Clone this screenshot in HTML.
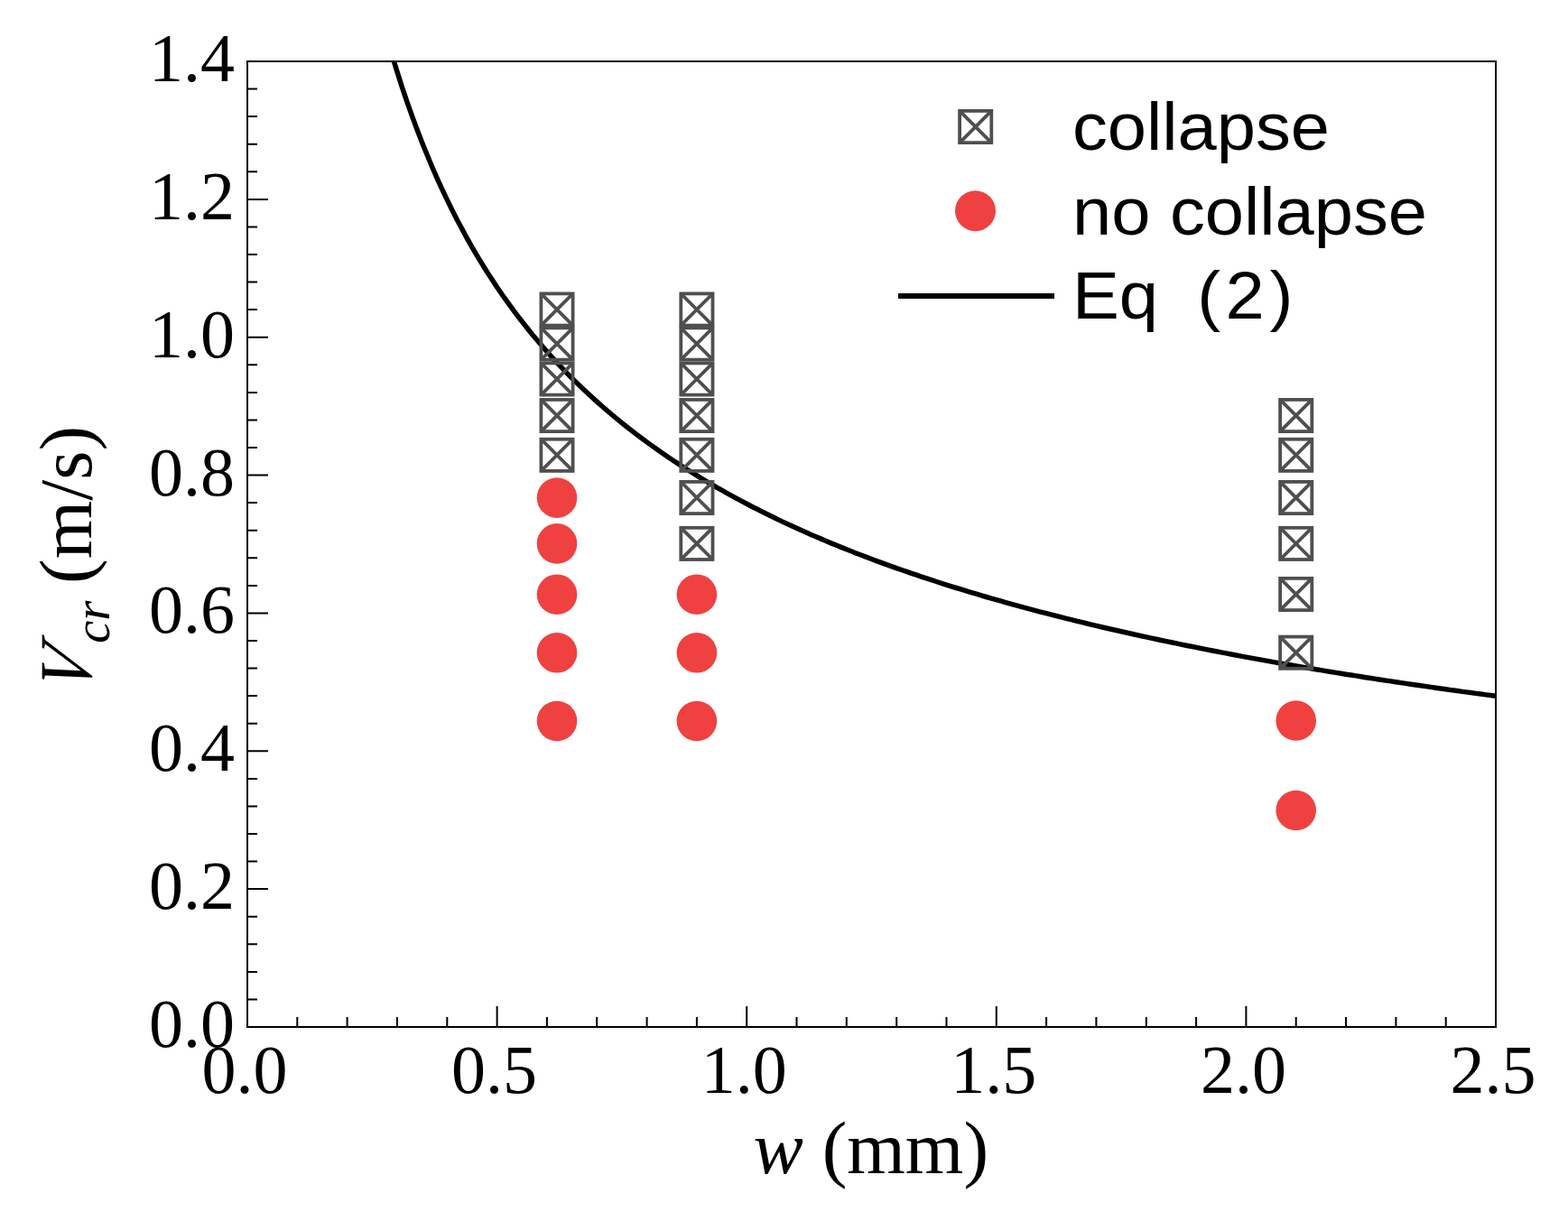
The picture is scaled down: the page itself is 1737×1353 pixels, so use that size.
<!DOCTYPE html>
<html><head><meta charset="utf-8"><style>html,body{margin:0;padding:0;background:#fff}svg{display:block}</style></head>
<body>
<svg width="1737" height="1353" viewBox="0 0 1737 1353">
<rect width="1737" height="1353" fill="#fff"/>
<defs><clipPath id="c"><rect x="274" y="68" width="1383" height="1070"/></clipPath></defs>
<polyline clip-path="url(#c)" points="428.9,42.4 434.4,61.5 440.0,79.6 445.5,96.8 451.0,113.2 456.6,128.9 462.1,143.8 467.6,158.1 473.2,171.8 478.7,185.0 484.2,197.6 489.7,209.7 495.3,221.4 500.8,232.6 506.3,243.5 511.9,253.9 517.4,264.1 522.9,273.8 528.5,283.3 534.0,292.4 539.5,301.3 545.1,309.8 550.6,318.2 556.1,326.2 561.7,334.1 567.2,341.7 572.7,349.1 578.3,356.3 583.8,363.3 589.3,370.2 594.9,376.8 600.4,383.3 605.9,389.6 611.5,395.8 617.0,401.8 622.5,407.6 628.0,413.4 633.6,419.0 639.1,424.4 644.6,429.8 650.2,435.0 655.7,440.1 661.2,445.1 666.8,450.0 672.3,454.8 677.8,459.5 683.4,464.1 688.9,468.6 694.4,473.0 700.0,477.4 705.5,481.6 711.0,485.8 716.6,489.9 722.1,493.9 727.6,497.8 733.2,501.7 738.7,505.5 744.2,509.2 749.8,512.9 755.3,516.5 760.8,520.0 766.3,523.5 771.9,526.9 777.4,530.3 782.9,533.6 788.5,536.9 794.0,540.1 799.5,543.2 805.1,546.3 810.6,549.4 816.1,552.4 821.7,555.4 827.2,558.3 832.7,561.2 838.3,564.0 843.8,566.8 849.3,569.5 854.9,572.3 860.4,574.9 865.9,577.6 871.5,580.2 877.0,582.7 882.5,585.3 888.1,587.8 893.6,590.2 899.1,592.7 904.6,595.1 910.2,597.4 915.7,599.8 921.2,602.1 926.8,604.3 932.3,606.6 937.8,608.8 943.4,611.0 948.9,613.2 954.4,615.3 960.0,617.4 965.5,619.5 971.0,621.6 976.6,623.6 982.1,625.6 987.6,627.6 993.2,629.6 998.7,631.5 1004.2,633.4 1009.8,635.3 1015.3,637.2 1020.8,639.1 1026.4,640.9 1031.9,642.7 1037.4,644.5 1042.9,646.3 1048.5,648.1 1054.0,649.8 1059.5,651.5 1065.1,653.2 1070.6,654.9 1076.1,656.6 1081.7,658.2 1087.2,659.9 1092.7,661.5 1098.3,663.1 1103.8,664.7 1109.3,666.2 1114.9,667.8 1120.4,669.3 1125.9,670.9 1131.5,672.4 1137.0,673.9 1142.5,675.3 1148.1,676.8 1153.6,678.3 1159.1,679.7 1164.7,681.1 1170.2,682.5 1175.7,683.9 1181.2,685.3 1186.8,686.7 1192.3,688.1 1197.8,689.4 1203.4,690.7 1208.9,692.1 1214.4,693.4 1220.0,694.7 1225.5,696.0 1231.0,697.3 1236.6,698.5 1242.1,699.8 1247.6,701.0 1253.2,702.3 1258.7,703.5 1264.2,704.7 1269.8,705.9 1275.3,707.1 1280.8,708.3 1286.4,709.5 1291.9,710.6 1297.4,711.8 1303.0,712.9 1308.5,714.1 1314.0,715.2 1319.5,716.3 1325.1,717.4 1330.6,718.5 1336.1,719.6 1341.7,720.7 1347.2,721.8 1352.7,722.9 1358.3,723.9 1363.8,725.0 1369.3,726.0 1374.9,727.1 1380.4,728.1 1385.9,729.1 1391.5,730.1 1397.0,731.1 1402.5,732.1 1408.1,733.1 1413.6,734.1 1419.1,735.1 1424.7,736.0 1430.2,737.0 1435.7,738.0 1441.3,738.9 1446.8,739.9 1452.3,740.8 1457.8,741.7 1463.4,742.6 1468.9,743.6 1474.4,744.5 1480.0,745.4 1485.5,746.3 1491.0,747.2 1496.6,748.0 1502.1,748.9 1507.6,749.8 1513.2,750.7 1518.7,751.5 1524.2,752.4 1529.8,753.2 1535.3,754.1 1540.8,754.9 1546.4,755.8 1551.9,756.6 1557.4,757.4 1563.0,758.2 1568.5,759.0 1574.0,759.8 1579.6,760.6 1585.1,761.4 1590.6,762.2 1596.1,763.0 1601.7,763.8 1607.2,764.6 1612.7,765.3 1618.3,766.1 1623.8,766.9 1629.3,767.6 1634.9,768.4 1640.4,769.1 1645.9,769.9 1651.5,770.6 1657.0,771.4" fill="none" stroke="#000" stroke-width="5.5" stroke-linejoin="round"/>
<rect x="274" y="68" width="1383" height="1070" fill="none" stroke="#000" stroke-width="2"/>
<path d="M274 1138.0h23M274 1107.4h11M274 1076.9h11M274 1046.3h11M274 1015.7h11M274 985.1h23M274 954.6h11M274 924.0h11M274 893.4h11M274 862.9h11M274 832.3h23M274 801.7h11M274 771.1h11M274 740.6h11M274 710.0h11M274 679.4h23M274 648.9h11M274 618.3h11M274 587.7h11M274 557.1h11M274 526.6h23M274 496.0h11M274 465.4h11M274 434.9h11M274 404.3h11M274 373.7h23M274 343.1h11M274 312.6h11M274 282.0h11M274 251.4h11M274 220.9h23M274 190.3h11M274 159.7h11M274 129.1h11M274 98.6h11M274 68.0h23M274.0 1138v-23M329.3 1138v-11M384.6 1138v-11M440.0 1138v-11M495.3 1138v-11M550.6 1138v-23M605.9 1138v-11M661.2 1138v-11M716.6 1138v-11M771.9 1138v-11M827.2 1138v-23M882.5 1138v-11M937.8 1138v-11M993.2 1138v-11M1048.5 1138v-11M1103.8 1138v-23M1159.1 1138v-11M1214.4 1138v-11M1269.8 1138v-11M1325.1 1138v-11M1380.4 1138v-23M1435.7 1138v-11M1491.0 1138v-11M1546.4 1138v-11M1601.7 1138v-11M1657.0 1138v-23" stroke="#000" stroke-width="2" fill="none"/>
<g stroke="#4f4f4f" stroke-width="3.8" fill="none"><rect x="599.4" y="325.4" width="35.2" height="35.2"/><path d="M599.4 325.4L634.6 360.6M634.6 325.4L599.4 360.6"/></g>
<g stroke="#4f4f4f" stroke-width="3.8" fill="none"><rect x="599.4" y="363.4" width="35.2" height="35.2"/><path d="M599.4 363.4L634.6 398.6M634.6 363.4L599.4 398.6"/></g>
<g stroke="#4f4f4f" stroke-width="3.8" fill="none"><rect x="599.4" y="402.4" width="35.2" height="35.2"/><path d="M599.4 402.4L634.6 437.6M634.6 402.4L599.4 437.6"/></g>
<g stroke="#4f4f4f" stroke-width="3.8" fill="none"><rect x="599.4" y="442.9" width="35.2" height="35.2"/><path d="M599.4 442.9L634.6 478.1M634.6 442.9L599.4 478.1"/></g>
<g stroke="#4f4f4f" stroke-width="3.8" fill="none"><rect x="599.4" y="486.7" width="35.2" height="35.2"/><path d="M599.4 486.7L634.6 521.9M634.6 486.7L599.4 521.9"/></g>
<g stroke="#4f4f4f" stroke-width="3.8" fill="none"><rect x="754.3" y="325.4" width="35.2" height="35.2"/><path d="M754.3 325.4L789.5 360.6M789.5 325.4L754.3 360.6"/></g>
<g stroke="#4f4f4f" stroke-width="3.8" fill="none"><rect x="754.3" y="363.4" width="35.2" height="35.2"/><path d="M754.3 363.4L789.5 398.6M789.5 363.4L754.3 398.6"/></g>
<g stroke="#4f4f4f" stroke-width="3.8" fill="none"><rect x="754.3" y="402.4" width="35.2" height="35.2"/><path d="M754.3 402.4L789.5 437.6M789.5 402.4L754.3 437.6"/></g>
<g stroke="#4f4f4f" stroke-width="3.8" fill="none"><rect x="754.3" y="442.9" width="35.2" height="35.2"/><path d="M754.3 442.9L789.5 478.1M789.5 442.9L754.3 478.1"/></g>
<g stroke="#4f4f4f" stroke-width="3.8" fill="none"><rect x="754.3" y="486.7" width="35.2" height="35.2"/><path d="M754.3 486.7L789.5 521.9M789.5 486.7L754.3 521.9"/></g>
<g stroke="#4f4f4f" stroke-width="3.8" fill="none"><rect x="754.3" y="533.9" width="35.2" height="35.2"/><path d="M754.3 533.9L789.5 569.1M789.5 533.9L754.3 569.1"/></g>
<g stroke="#4f4f4f" stroke-width="3.8" fill="none"><rect x="754.3" y="584.8" width="35.2" height="35.2"/><path d="M754.3 584.8L789.5 620.0M789.5 584.8L754.3 620.0"/></g>
<g stroke="#4f4f4f" stroke-width="3.8" fill="none"><rect x="1418.1" y="442.9" width="35.2" height="35.2"/><path d="M1418.1 442.9L1453.3 478.1M1453.3 442.9L1418.1 478.1"/></g>
<g stroke="#4f4f4f" stroke-width="3.8" fill="none"><rect x="1418.1" y="486.7" width="35.2" height="35.2"/><path d="M1418.1 486.7L1453.3 521.9M1453.3 486.7L1418.1 521.9"/></g>
<g stroke="#4f4f4f" stroke-width="3.8" fill="none"><rect x="1418.1" y="533.9" width="35.2" height="35.2"/><path d="M1418.1 533.9L1453.3 569.1M1453.3 533.9L1418.1 569.1"/></g>
<g stroke="#4f4f4f" stroke-width="3.8" fill="none"><rect x="1418.1" y="584.8" width="35.2" height="35.2"/><path d="M1418.1 584.8L1453.3 620.0M1453.3 584.8L1418.1 620.0"/></g>
<g stroke="#4f4f4f" stroke-width="3.8" fill="none"><rect x="1418.1" y="640.9" width="35.2" height="35.2"/><path d="M1418.1 640.9L1453.3 676.1M1453.3 640.9L1418.1 676.1"/></g>
<g stroke="#4f4f4f" stroke-width="3.8" fill="none"><rect x="1418.1" y="705.6" width="35.2" height="35.2"/><path d="M1418.1 705.6L1453.3 740.8M1453.3 705.6L1418.1 740.8"/></g>
<circle cx="617.0" cy="551.6" r="22.3" fill="#F04141"/>
<circle cx="617.0" cy="602.4" r="22.3" fill="#F04141"/>
<circle cx="617.0" cy="658.7" r="22.3" fill="#F04141"/>
<circle cx="617.0" cy="723.3" r="22.3" fill="#F04141"/>
<circle cx="617.0" cy="799" r="22.3" fill="#F04141"/>
<circle cx="771.9" cy="658.7" r="22.3" fill="#F04141"/>
<circle cx="771.9" cy="723.3" r="22.3" fill="#F04141"/>
<circle cx="771.9" cy="799" r="22.3" fill="#F04141"/>
<circle cx="1435.7" cy="798.5" r="22.3" fill="#F04141"/>
<circle cx="1435.7" cy="898" r="22.3" fill="#F04141"/>
<text x="260" y="1160.0" text-anchor="end" font-family="Liberation Serif, serif" font-size="76">0.0</text>
<text x="260" y="1007.1" text-anchor="end" font-family="Liberation Serif, serif" font-size="76">0.2</text>
<text x="260" y="854.3" text-anchor="end" font-family="Liberation Serif, serif" font-size="76">0.4</text>
<text x="260" y="701.4" text-anchor="end" font-family="Liberation Serif, serif" font-size="76">0.6</text>
<text x="260" y="548.6" text-anchor="end" font-family="Liberation Serif, serif" font-size="76">0.8</text>
<text x="260" y="395.7" text-anchor="end" font-family="Liberation Serif, serif" font-size="76">1.0</text>
<text x="260" y="242.9" text-anchor="end" font-family="Liberation Serif, serif" font-size="76">1.2</text>
<text x="260" y="90.0" text-anchor="end" font-family="Liberation Serif, serif" font-size="76">1.4</text>
<text x="271.0" y="1211" text-anchor="middle" font-family="Liberation Serif, serif" font-size="76">0.0</text>
<text x="547.6" y="1211" text-anchor="middle" font-family="Liberation Serif, serif" font-size="76">0.5</text>
<text x="824.2" y="1211" text-anchor="middle" font-family="Liberation Serif, serif" font-size="76">1.0</text>
<text x="1100.8" y="1211" text-anchor="middle" font-family="Liberation Serif, serif" font-size="76">1.5</text>
<text x="1377.4" y="1211" text-anchor="middle" font-family="Liberation Serif, serif" font-size="76">2.0</text>
<text x="1654.0" y="1211" text-anchor="middle" font-family="Liberation Serif, serif" font-size="76">2.5</text>
<text x="834.5" y="1299.8" font-family="Liberation Serif, serif" font-size="83"><tspan font-style="italic">w</tspan> (mm)</text>
<g transform="rotate(-90)" font-family="Liberation Serif, serif" font-size="83"><text transform="translate(-770.1,100.5) skewX(-14) scale(0.91,1)" font-style="italic">V</text><text x="-713" y="121" font-style="italic" font-size="57">cr</text><text x="-647" y="100.5">(m/s)</text></g>
<g stroke="#4f4f4f" stroke-width="3.8" fill="none"><rect x="1063.1" y="122.9" width="35.2" height="35.2"/><path d="M1063.1 122.9L1098.3 158.1M1098.3 122.9L1063.1 158.1"/></g>
<circle cx="1080.5" cy="233.7" r="22.5" fill="#F04141"/>
<path d="M995 328H1168" stroke="#000" stroke-width="6"/>
<text transform="translate(1188,166) scale(1.05,1)" font-family="Liberation Sans, Arial, sans-serif" font-size="74" style="white-space:pre">collapse</text>
<text transform="translate(1188,260) scale(1.05,1)" font-family="Liberation Sans, Arial, sans-serif" font-size="74" style="white-space:pre">no collapse</text>
<text transform="translate(1188,352.7) scale(1.05,1)" font-family="Liberation Sans, Arial, sans-serif" font-size="74" style="white-space:pre">Eq&#160; (<tspan dx="5.3">2</tspan><tspan dx="5.3">)</tspan></text>
</svg>
</body></html>
